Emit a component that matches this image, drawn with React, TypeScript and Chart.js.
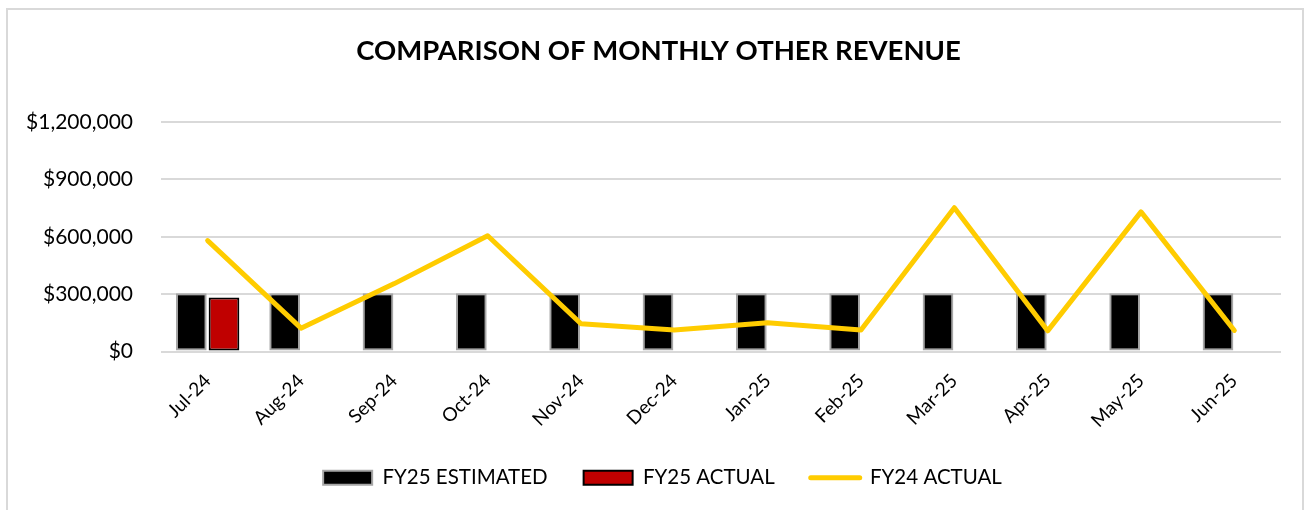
import React, { useEffect, useRef } from "react";
import { Chart, registerables } from "chart.js";

Chart.register(...registerables);

const categories = ["Jul-24", "Aug-24", "Sep-24", "Oct-24", "Nov-24", "Dec-24", "Jan-25", "Feb-25", "Mar-25", "Apr-25", "May-25", "Jun-25"];
const fy25Estimated = [305000, 305000, 305000, 305000, 305000, 305000, 305000, 305000, 305000, 305000, 305000, 305000];
const fy25Actual = [283000, null, null, null, null, null, null, null, null, null, null, null];
const fy24Actual = [580000, 122000, 355000, 605000, 145000, 112000, 150000, 112000, 752000, 108000, 730000, 110000];
const yTicks = [0, 300000, 600000, 900000, 1200000];

const FONT = "Lato, 'Open Sans', sans-serif";

const centerBoxes = {
  id: "centerBoxes",
  beforeDraw(chart: any) {
    const t = chart.titleBlock;
    if (t) {
      t.left = 36;
      t.right = 1281;
    }
    const l = chart.legend;
    if (l) {
      l.left = 44;
      l.right = 1281;
    }
  },
};

export default function App() {
  const ref = useRef<HTMLCanvasElement>(null);
  useEffect(() => {
    if (!ref.current) return;
    const chart = new Chart(ref.current, {
      type: "bar",
      data: {
        labels: categories,
        datasets: [
          {
            type: "bar",
            label: "FY25 ESTIMATED",
            data: fy25Estimated,
            backgroundColor: "#000000",
            borderColor: "#a6a6a6",
            borderWidth: 2,
            borderSkipped: false,
            categoryPercentage: 0.7,
            barPercentage: 0.94,
            order: 2,
          },
          {
            type: "bar",
            label: "FY25 ACTUAL",
            data: fy25Actual,
            backgroundColor: "#c00000",
            borderColor: "#000000",
            borderWidth: 2,
            borderSkipped: false,
            categoryPercentage: 0.7,
            barPercentage: 0.94,
            order: 2,
          },
          {
            type: "line",
            label: "FY24 ACTUAL",
            data: fy24Actual,
            borderColor: "#ffcc00",
            backgroundColor: "#ffcc00",
            borderWidth: 5,
            pointRadius: 0,
            borderCapStyle: "round",
            borderJoinStyle: "round",
            tension: 0,
            order: 1,
          },
        ] as any,
      },
      plugins: [centerBoxes],
      options: {
        responsive: false,
        animation: false,
        layout: { padding: { left: 0, right: 29, top: 0, bottom: 12 } },
        plugins: {
          title: {
            display: true,
            text: "COMPARISON OF MONTHLY OTHER REVENUE",
            color: "#000",
            font: { family: FONT, size: 27.5, weight: "bold", lineHeight: 1.2 },
            padding: { top: 35, bottom: 54 },
          },
          legend: {
            position: "bottom",
            labels: {
              color: "#000",
              font: { family: FONT, size: 20.5 },
              usePointStyle: true,
              pointStyleWidth: 49,
              boxHeight: 14,
              padding: 36,
              generateLabels: () => [
                { text: "FY25 ESTIMATED", fillStyle: "#000000", strokeStyle: "#a6a6a6", lineWidth: 2, pointStyle: "rect", datasetIndex: 0, hidden: false, fontColor: "#000" },
                { text: "FY25 ACTUAL", fillStyle: "#c00000", strokeStyle: "#000000", lineWidth: 2, pointStyle: "rect", datasetIndex: 1, hidden: false, fontColor: "#000" },
                { text: "FY24 ACTUAL", fillStyle: "#ffcc00", strokeStyle: "#ffcc00", lineWidth: 5, lineCap: "round", pointStyle: "line", datasetIndex: 2, hidden: false, fontColor: "#000" },
              ] as any,
            },
          },
          tooltip: { enabled: false },
        },
        scales: {
          x: {
            grid: { display: false },
            border: { display: false },
            ticks: {
              color: "#000",
              font: { family: FONT, size: 19 },
              minRotation: 45,
              maxRotation: 45,
              padding: 10,
            },
            afterFit: (s: any) => {
              s.height = 80;
            },
          },
          y: {
            min: 0,
            max: 1200000,
            border: { display: false },
            grid: { color: "#d9d9d9", lineWidth: 2, drawTicks: false },
            afterBuildTicks: (s: any) => {
              s.ticks = yTicks.map((v) => ({ value: v }));
            },
            ticks: {
              color: "#000",
              font: { family: FONT, size: 21 },
              padding: 28,
              callback: (v: any) => "$" + Number(v).toLocaleString("en-US"),
            },
            afterFit: (s: any) => {
              s.width = 161;
            },
          },
        },
      },
    });
    return () => chart.destroy();
  }, []);
  return (
    <div style={{ position: "absolute", left: 0, top: 0, width: 1310, height: 510, background: "#fff", overflow: "hidden" }}>
      <div style={{ position: "absolute", left: 6, top: 8, width: 1298, height: 520, border: "2px solid #d9d9d9", boxSizing: "border-box" }} />
      <canvas ref={ref} width={1310} height={510} style={{ position: "absolute", left: 0, top: 0 }} />
    </div>
  );
}
